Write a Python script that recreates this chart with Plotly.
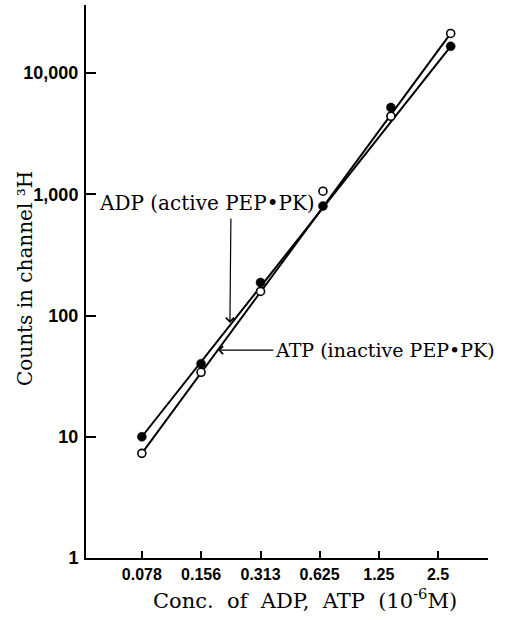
import plotly.graph_objects as go

# Concentration tick labels on the x axis (10^-6 M)
conc_ticks = [0.078, 0.156, 0.313, 0.625, 1.25, 2.5]
conc_tick_text = ["0.078", "0.156", "0.313", "0.625", "1.25", "2.5"]

# Measured concentrations of the plotted points (10^-6 M)
conc_points = [0.078, 0.156, 0.313, 0.65, 1.44, 2.9]

# Counts in the 3H channel
adp_counts = [10, 40, 187, 800, 5200, 16600]      # ADP, active PEP·PK (filled)
atp_counts = [7.3, 34, 158, 1060, 4400, 21200]    # ATP, inactive PEP·PK (open)

y_ticks = [1, 10, 100, 1000, 10000]
y_tick_text = ["1", "10", "100", "1,000", "10,000"]

fig = go.Figure()

# straight lines through the end points of each series
fig.add_trace(go.Scatter(
    x=[conc_points[0], conc_points[-1]], y=[adp_counts[0], adp_counts[-1]],
    mode="lines", line=dict(color="black", width=2), hoverinfo="skip"))
fig.add_trace(go.Scatter(
    x=[conc_points[0], conc_points[-1]], y=[atp_counts[0], atp_counts[-1]],
    mode="lines", line=dict(color="black", width=2), hoverinfo="skip"))

fig.add_trace(go.Scatter(
    x=conc_points, y=adp_counts, mode="markers", name="ADP",
    marker=dict(symbol="circle", size=9, color="black",
                line=dict(color="black", width=0.5))))
fig.add_trace(go.Scatter(
    x=conc_points, y=atp_counts, mode="markers", name="ATP",
    marker=dict(symbol="circle", size=8, color="white",
                line=dict(color="black", width=1.6))))

serif = "DejaVu Serif"

annotations = [
    # ADP label with its downward pointer
    dict(text="ADP (active PEP•PK)", xref="paper", yref="paper",
         x=0.027, y=0.642, xanchor="left", yanchor="middle", showarrow=False,
         font=dict(family=serif, size=20, color="black")),
    dict(text="", xref="paper", yref="paper", x=0.358, y=0.425,
         ax=1, ay=-106, axref="pixel", ayref="pixel", showarrow=True,
         arrowhead=4, arrowsize=1.3, arrowwidth=1.2, arrowcolor="black"),
    # ATP label; the arrow runs from the label's left edge to the line
    dict(text="ATP (inactive PEP•PK)", xref="paper", yref="paper",
         x=0.328, y=0.376, ax=167, ay=0, axref="pixel", ayref="pixel",
         showarrow=True, arrowhead=4, arrowsize=1.3, arrowwidth=1.2,
         arrowcolor="black", standoff=0, borderpad=1,
         font=dict(family=serif, size=19, color="black")),
    # axis titles
    dict(text="Conc.  of  ADP,  ATP  (10<sup>-6</sup>M)", xref="paper", yref="paper",
         x=0.545, y=-0.075, xanchor="center", yanchor="middle", showarrow=False,
         font=dict(family=serif, size=21, color="black")),
    dict(text="Counts in channel ³H", xref="paper", yref="paper",
         x=-0.152, y=0.506, xanchor="center", yanchor="middle", showarrow=False,
         textangle=-90, font=dict(family=serif, size=20, color="black")),
]

fig.update_layout(
    width=506, height=620,
    margin=dict(l=86, r=18, t=5, b=62),
    paper_bgcolor="white", plot_bgcolor="white",
    showlegend=False,
    annotations=annotations,
    xaxis=dict(
        type="log", range=[-1.3919, 0.6521],
        tickvals=conc_ticks, ticktext=conc_tick_text,
        ticks="inside", ticklen=7, tickwidth=1.5, tickcolor="black",
        showline=True, linecolor="black", linewidth=2,
        showgrid=False, zeroline=False, ticklabelstandoff=1,
        tickfont=dict(family="Liberation Sans", size=16, color="black", weight="bold"),
    ),
    yaxis=dict(
        type="log", range=[0, 4.561],
        tickvals=y_ticks, ticktext=y_tick_text,
        ticks="inside", ticklen=10, tickwidth=1.5, tickcolor="black",
        showline=True, linecolor="black", linewidth=2,
        showgrid=False, zeroline=False, ticklabelstandoff=2,
        tickfont=dict(family="Liberation Sans", size=18, color="black", weight="bold"),
    ),
)

fig.write_html("out.html")
